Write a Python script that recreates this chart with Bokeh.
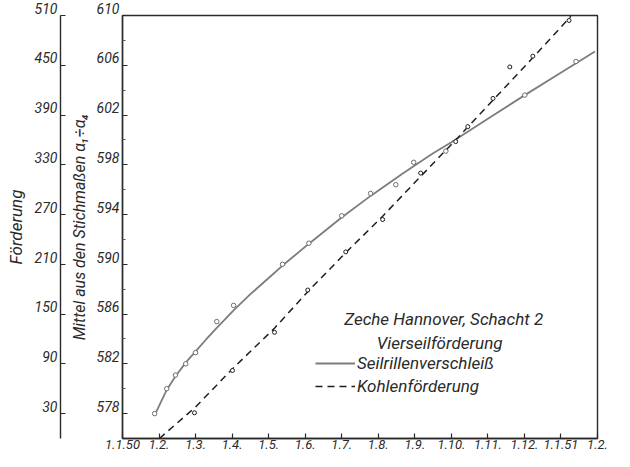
from bokeh.plotting import figure
from bokeh.models import Range1d, LinearAxis, FixedTicker, Legend, LegendItem, Label, Arrow
from bokeh.embed import file_html
from bokeh.resources import INLINE

# ---------------- data ----------------
month_ticks = list(range(14))
month_labels = ["1.1.50", "1.2.", "1.3.", "1.4.", "1.5.", "1.6.", "1.7.", "1.8.",
                "1.9.", "1.10.", "1.11.", "1.12.", "1.1.51", "1.2."]
mm_ticks = [578, 582, 586, 590, 594, 598, 602, 606, 610]
mm_minor = [580, 584, 588, 592, 596, 600, 604, 608]
t_ticks = [30, 90, 150, 210, 270, 330, 390, 450, 510]

# Seilrillenverschleiss (mm) - drawn curve
wear_line_month = [0.9, 1.21, 1.45, 1.73, 2.0, 2.3, 2.58, 3.04, 3.5, 4.0, 4.38, 5.12, 5.97,
                   6.79, 7.67, 8.49, 8.99, 10.0, 11.01, 12.05, 12.93]
wear_line_mm = [578.0, 579.9, 581.0, 582.1, 583.0, 584.0, 584.9, 586.3, 587.6, 588.9, 589.9, 591.7,
                593.7, 595.5, 597.3, 598.9, 599.8, 601.7, 603.6, 605.5, 607.1]
# measured points
wear_pts_month = [0.88, 1.21, 1.45, 1.73, 2.0, 2.58, 3.04, 4.38, 5.10, 6.0, 6.79, 7.48,
                  7.97, 8.85, 11.01, 12.41]
wear_pts_mm = [578.0, 580.0, 581.1, 582.0, 582.9, 585.4, 586.7, 590.0, 591.7, 593.9, 595.7, 596.4,
               598.2, 599.1, 603.6, 606.3]

# Kohlenfoerderung (thousand t) - drawn curve
coal_line_month = [1.01, 2.0, 3.01, 4.16, 5.07, 6.11, 7.12, 8.16, 9.12, 10.14, 11.23, 12.27]
coal_line_t = [0, 38, 84, 133, 177, 224, 268, 316, 360, 408, 459, 509]
# measured points
coal_pts_month = [1.97, 3.01, 4.16, 5.07, 6.11, 7.12, 8.16, 9.12, 9.45, 10.14, 10.6, 11.23, 12.22]
coal_pts_t = [31, 82, 128, 179, 225, 264, 320, 358, 376, 410, 448, 461, 504]

FONT = "Roboto"
INK = "#2a2a2a"

p = figure(width=614, height=451, x_range=Range1d(0, 13), y_range=Range1d(576, 610),
           output_backend="svg", toolbar_location=None,
           min_border_left=122, min_border_right=17, min_border_top=15, min_border_bottom=10)
p.extra_y_ranges = {"t": Range1d(0, 510)}
p.grid.visible = False
p.outline_line_color = INK
p.outline_line_width = 1.4
p.background_fill_color = "white"
p.border_fill_color = "white"


def style(ax, size="14px"):
    ax.axis_line_color = INK
    ax.axis_line_width = 1.4
    ax.major_tick_line_color = INK
    ax.major_tick_line_width = 1.2
    ax.major_tick_in = 5
    ax.major_tick_out = 0
    ax.minor_tick_in = 3
    ax.minor_tick_out = 0
    ax.minor_tick_line_color = "#555555"
    ax.major_label_text_font = FONT
    ax.major_label_text_font_style = "italic"
    ax.major_label_text_font_size = size
    ax.major_label_text_color = INK
    ax.axis_label_text_font = FONT
    ax.axis_label_text_font_style = "italic"
    ax.axis_label_text_color = INK


# x axis
xa = p.xaxis[0]
style(xa, "13px")
xa.ticker = FixedTicker(ticks=month_ticks, minor_ticks=[])
xa.major_label_overrides = {m: lab for m, lab in zip(month_ticks, month_labels)}
xa.major_label_standoff = 1
xa.major_label_text_line_height = 0.8

# inner y axis (mm)
ya = p.yaxis[0]
style(ya, "14px")
ya.ticker = FixedTicker(ticks=mm_ticks, minor_ticks=mm_minor)
ya.major_label_overrides = {v: f"{v}\n" for v in mm_ticks}
ya.major_label_text_line_height = 0.85
ya.major_label_standoff = 3
ya.axis_label = "Mittel aus den Stichmaßen α₁÷α₄"
ya.axis_label_text_font_size = "16px"
ya.axis_label_standoff = 5

# spacer between the two left axes
sp = LinearAxis(ticker=FixedTicker(ticks=[], minor_ticks=[]))
sp.axis_line_color = None
sp.major_tick_line_color = None
sp.minor_tick_line_color = None
sp.axis_label = "|"
sp.axis_label_text_alpha = 0
sp.axis_label_text_font_size = "3px"
sp.axis_label_standoff = 0
p.add_layout(sp, "left")

# outer y axis (Foerderung)
ta = LinearAxis(y_range_name="t", ticker=FixedTicker(ticks=t_ticks, minor_ticks=[]))
style(ta, "14px")
ta.major_label_overrides = {v: f"{v}\n" for v in t_ticks}
ta.major_label_text_line_height = 0.85
ta.major_label_standoff = 3
ta.axis_label = "Förderung"
ta.axis_label_text_font_size = "17px"
ta.axis_label_standoff = 6
p.add_layout(ta, "left")

# bottom line extension to outer axis
p.add_layout(Arrow(end=None, x_start=-1.78, y_start=576, x_end=0, y_end=576,
                   line_color=INK, line_width=1.4))

# unit labels
p.add_layout(Label(x=-1.86, y=608.2, text="i.Taus.t", text_align="right", text_baseline="middle",
                   text_font=FONT, text_font_style="italic", text_font_size="14px", text_color=INK))
p.add_layout(Label(x=-0.08, y=608.2, text="m/m", text_align="right", text_baseline="middle",
                   text_font=FONT, text_font_style="italic", text_font_size="14px", text_color=INK))

# series
wear = p.line(wear_line_month, wear_line_mm, line_color="#7d7d7d", line_width=1.8)
p.scatter(wear_pts_month, wear_pts_mm, size=4.5, marker="circle", line_color="#6e6e6e",
          fill_color="white", line_width=1)
coal = p.line(coal_line_month, coal_line_t, y_range_name="t", line_color="#1e1e1e",
              line_width=1.5, line_dash="7 5")
p.scatter(coal_pts_month, coal_pts_t, y_range_name="t", size=4, marker="circle",
          line_color="#1e1e1e", fill_color="white", line_width=1)

# legend block
p.add_layout(Label(x=8.79, y=585.6, text="Zeche Hannover, Schacht 2", text_align="center",
                   text_baseline="middle", text_font=FONT, text_font_style="italic",
                   text_font_size="17px", text_color=INK))
p.add_layout(Label(x=8.68, y=583.7, text="Vierseilförderung", text_align="center",
                   text_baseline="middle", text_font=FONT, text_font_style="italic",
                   text_font_size="17px", text_color=INK))
legend = Legend(items=[LegendItem(label="Seilrillenverschleiß", renderers=[wear]),
                       LegendItem(label="Kohlenförderung", renderers=[coal])],
                location=(193, 42), glyph_width=40, glyph_height=20, label_height=20,
                label_standoff=2, spacing=3, padding=0, margin=0,
                border_line_alpha=0, background_fill_alpha=0,
                label_text_font=FONT, label_text_font_style="italic",
                label_text_font_size="17px", label_text_color=INK)
p.add_layout(legend)

open("out.html", "w").write(file_html(p, INLINE))
